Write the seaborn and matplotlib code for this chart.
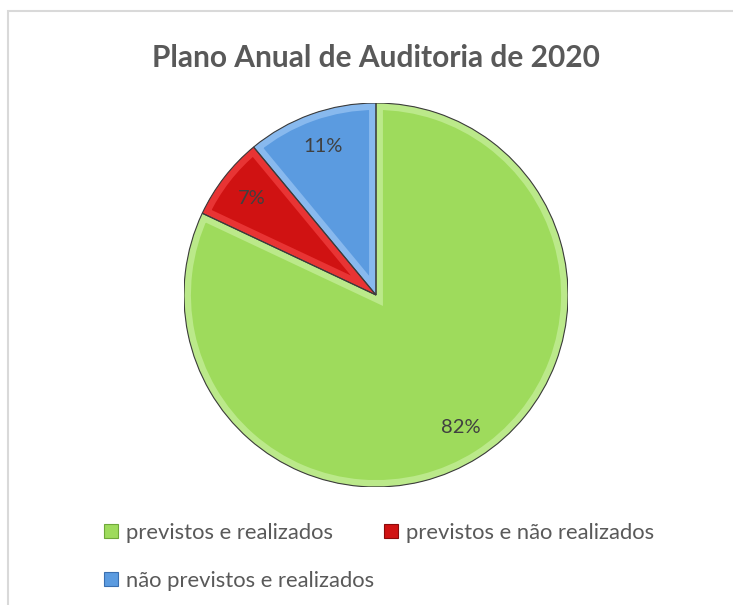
import matplotlib
matplotlib.use("Agg")
import matplotlib.pyplot as plt
import seaborn as sns
from matplotlib.patches import Rectangle, Wedge
from matplotlib.lines import Line2D

categories = ["previstos e realizados", "previstos e não realizados", "não previstos e realizados"]
values = [82, 7, 11]
title = "Plano Anual de Auditoria de 2020"

base_colors = ["#9edb5c", "#d01212", "#5b9be0"]
light_colors = ["#bbe98a", "#e83434", "#88b9ee"]
dark_colors = ["#6fa83a", "#8c0a0a", "#3a6fb0"]

sns.set_theme(style="white")
plt.rcParams["font.family"] = ["Lato", "DejaVu Sans"]

W, H = 733, 605
fig = plt.figure(figsize=(W / 100, H / 100), dpi=100)
fig.patch.set_facecolor("white")

# chart border (only top and left visible in crop)
fig.patches.append(Rectangle((8 / W, -0.05), 1.2, 1 - 11 / H + 0.05,
                             transform=fig.transFigure, fill=False,
                             edgecolor="#d9d9d9", linewidth=1.5))

# pie centred at (376, 295) px, radius 192 px
cx, cy, r = 376, 295, 192
ax = fig.add_axes([(cx - r) / W, (H - cy - r) / H, 2 * r / W, 2 * r / H])

wedges, texts, autotexts = ax.pie(
    values, colors=base_colors, startangle=90, counterclock=False,
    autopct="%1.0f%%", pctdistance=0.82,
    wedgeprops=dict(linewidth=0),
    textprops=dict(color="#404040", fontsize=14.5),
)
# bevel-ish highlight: stroke along the inside of each slice
for w, lc in zip(wedges, light_colors):
    hl = Wedge(w.center, w.r, w.theta1, w.theta2, facecolor="none",
               edgecolor=lc, linewidth=10, zorder=w.get_zorder() + 0.1)
    ax.add_patch(hl)
    hl.set_clip_path(w)
    ol = Wedge(w.center, w.r, w.theta1, w.theta2, facecolor="none",
               edgecolor="#3c3c3c", linewidth=0.8, zorder=w.get_zorder() + 0.2)
    ax.add_patch(ol)
for t in autotexts:
    t.set_zorder(5)
ax.set_xlim(-1, 1)
ax.set_ylim(-1, 1)
ax.set_aspect("equal")
ax.axis("off")

fig.text(cx / W, 1 - 58 / H, title, ha="center", va="center",
         fontsize=21.5, fontweight="bold", color="#595959")

handles = [Line2D([], [], linestyle="none", marker="s", markersize=10.5,
                  markerfacecolor=c, markeredgecolor=dc, markeredgewidth=0.8)
           for c, dc in zip(base_colors, dark_colors)]
order = [0, 2, 1]
fig.legend([handles[i] for i in order], [categories[i] for i in order],
           loc="upper left", bbox_to_anchor=(104 / W, 1 - 523 / H), ncol=2,
           frameon=False, fontsize=15.8, labelcolor="#595959", borderpad=0,
           borderaxespad=0, handlelength=0.68, handletextpad=0.32,
           columnspacing=0.45, labelspacing=1.28)

plt.savefig("out.png", dpi=100, facecolor="white")
